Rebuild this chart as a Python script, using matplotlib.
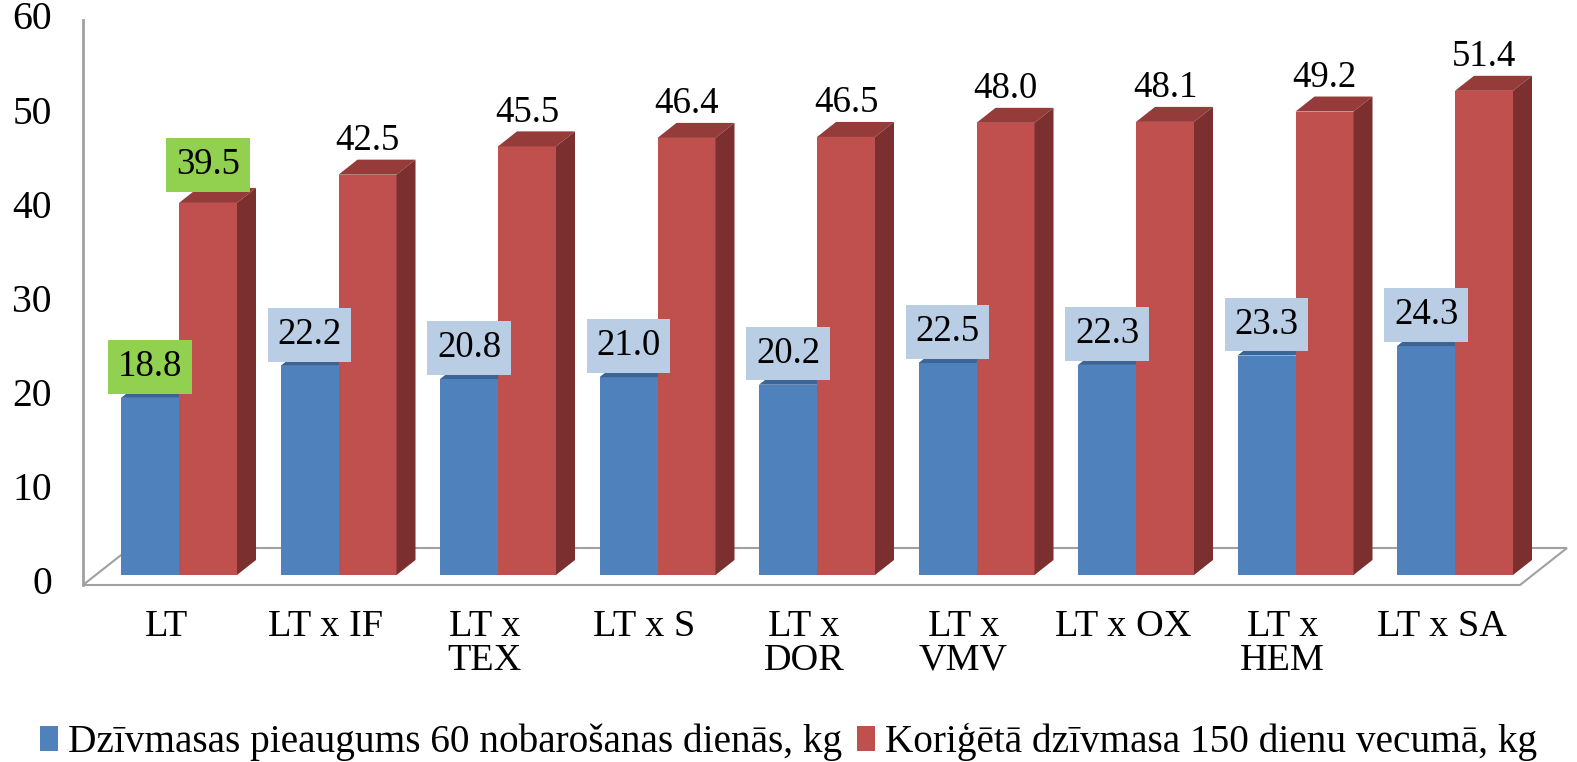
import numpy as np
import matplotlib
matplotlib.use("Agg")
import matplotlib.pyplot as plt
from matplotlib.patches import Polygon, Rectangle, Patch

plt.rcParams['font.family'] = ['Liberation Serif', 'DejaVu Serif']

# -------------------------------
# Data
# -------------------------------
categories = ["LT", "LT x IF", "LT x\nTEX", "LT x S", "LT x\nDOR",
              "LT x\nVMV", "LT x OX", "LT x\nHEM", "LT x SA"]
gain_60d = [18.8, 22.2, 20.8, 21.0, 20.2, 22.5, 22.3, 23.3, 24.3]
mass_150d = [39.5, 42.5, 45.5, 46.4, 46.5, 48.0, 48.1, 49.2, 51.4]
yticks = [0, 10, 20, 30, 40, 50, 60]
series_names = ["Dzīvmasas pieaugums 60 nobarošanas dienās, kg",
                "Koriģētā dzīvmasa 150 dienu vecumā, kg"]

# -------------------------------
# Geometry (pixels -> data units)
# -------------------------------
W, H = 1577, 762
PX_X = 159.5      # pixels per category
PX_Y = 9.42       # pixels per value unit
ZERO_PX = 575     # bar bottom (value 0), from top
FIRST_PX = 179    # boundary between the two bars of the first group

bar_w = 58 / PX_X
dx, dy = 19 / PX_X, 15 / PX_Y            # bar depth
fdx, fdy = 13 / PX_X, 10 / PX_Y          # bar front relative to floor front
floor_dx, floor_dy = 47 / PX_X, 37 / PX_Y


def px_to_x(p):
    return (p - FIRST_PX) / PX_X


BLUE, BLUE_TOP = "#4F81BD", "#3C6494"
RED, RED_TOP, RED_SIDE = "#C0504D", "#953B39", "#7B2F2F"
GRAY = "#A0A0A0"


def draw_bar(ax, x0, h, front, top, side=None):
    ax.add_patch(Rectangle((x0, 0), bar_w, h, facecolor=front, edgecolor="none", zorder=3))
    ax.add_patch(Polygon([(x0, h), (x0 + bar_w, h), (x0 + bar_w + dx, h + dy), (x0 + dx, h + dy)],
                         closed=True, facecolor=top, edgecolor="none", zorder=3))
    if side is not None:
        ax.add_patch(Polygon([(x0 + bar_w, 0), (x0 + bar_w + dx, dy),
                              (x0 + bar_w + dx, h + dy), (x0 + bar_w, h)],
                             closed=True, facecolor=side, edgecolor="none", zorder=3))


def main():
    fig = plt.figure(figsize=(W / 100, H / 100), dpi=100)
    ax = fig.add_axes([0, 0, 1, 1])
    ymax = ZERO_PX / PX_Y
    ax.set_ylim(ymax - H / PX_Y, ymax)
    xmin = px_to_x(0)
    ax.set_xlim(xmin, xmin + W / PX_X)
    ax.axis("off")

    # -------------------------------
    # Floor and vertical axis
    # -------------------------------
    fl, fr = px_to_x(83), px_to_x(1520)
    fy = -fdy
    ax.add_patch(Polygon([(fl, fy), (fr, fy), (fr + floor_dx, fy + floor_dy), (fl + floor_dx, fy + floor_dy)],
                         closed=True, facecolor="white", edgecolor=GRAY, lw=1.5, zorder=1))
    ax.plot([fl, fl], [fy, fy + 60], color=GRAY, lw=2, zorder=1)

    for t in yticks:
        ax.text(px_to_x(52), t + fy, str(t), ha="right", va="center", fontsize=28.5)

    # -------------------------------
    # Bars
    # -------------------------------
    x = np.arange(len(categories))
    for i in x:
        draw_bar(ax, i - bar_w, gain_60d[i], BLUE, BLUE_TOP)
        draw_bar(ax, i, mass_150d[i], RED, RED_TOP, RED_SIDE)

        # value labels
        box_b = "#92D050" if i == 0 else "#B9CDE5"
        ax.annotate(f"{gain_60d[i]:.1f}", (i - bar_w / 2, gain_60d[i]), xytext=(0, 10),
                    textcoords="offset points", ha="center", va="bottom", fontsize=26.5, zorder=5,
                    bbox=dict(boxstyle="square,pad=0.26", facecolor=box_b, edgecolor="none"))
        red_box = dict(boxstyle="square,pad=0.26", facecolor="#92D050", edgecolor="none") if i == 0 else None
        ax.annotate(f"{mass_150d[i]:.1f}", (i + bar_w / 2, mass_150d[i]), xytext=(0, 15 if i == 0 else 12),
                    textcoords="offset points", ha="center", va="bottom", fontsize=26.5, zorder=5,
                    bbox=red_box)

        # category labels
        ax.text(i - fdx, (ZERO_PX - 609) / PX_Y, categories[i], ha="center", va="top",
                fontsize=27.5, linespacing=1.0)

    # -------------------------------
    # Legend
    # -------------------------------
    handles = [Patch(facecolor=BLUE), Patch(facecolor=RED)]
    fig.legend(handles, series_names, loc="center", bbox_to_anchor=(0.5, 1 - 742 / H), ncol=2,
               frameon=False, fontsize=28.3, handlelength=0.45, handleheight=0.6,
               handletextpad=0.25, columnspacing=0.4, borderaxespad=0)

    fig.savefig("out.png", dpi=100)


# -------------------------------
if __name__ == "__main__":
    main()
